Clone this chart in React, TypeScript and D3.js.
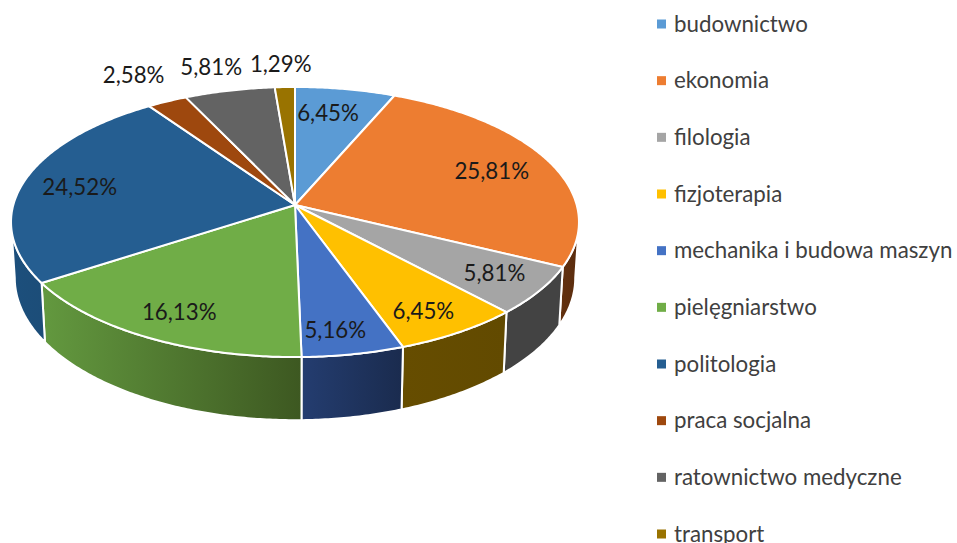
import React from "react";
import * as d3 from "d3";

const categories = ["budownictwo", "ekonomia", "filologia", "fizjoterapia", "mechanika i budowa maszyn", "pielęgniarstwo", "politologia", "praca socjalna", "ratownictwo medyczne", "transport"];
const shares = [6.45, 25.81, 5.81, 6.45, 5.16, 16.13, 24.52, 2.58, 5.81, 1.29];
const labels = ["6,45%", "25,81%", "5,81%", "6,45%", "5,16%", "16,13%", "24,52%", "2,58%", "5,81%", "1,29%"];
const colors = ["#5b9bd5", "#ed7d31", "#a5a5a5", "#ffc000", "#4472c4", "#70ad47", "#255e91", "#9e480e", "#636363", "#997300"];
// side wall shades, left to right
const wallLeft = ["#3f6d96", "#63310f", "#434343", "#664d00", "#243d70", "#63993f", "#1c4f7c", "#63300a", "#444", "#664d00"];
const wallRight = ["#3f6d96", "#5a2c0e", "#434343", "#624a00", "#1a2b4e", "#3d5821", "#1c4d78", "#63300a", "#444", "#664d00"];
// how far out each label sits (1 = rim) and its turn off the slice middle, degrees
const labelRadius = [0.77, 0.77, 0.82, 0.83, 0.85, 0.82, 0.79, 1.3, 1.25, 1.23];
const labelTurn = [-2, 0, -0.8, 1.4, 1.8, -0.8, -0.9, 0, -0.8, -0.4];

const width = 957;
const height = 543;
const cx = 295;
const cy = 205;
const tilt = -0.126; // perspective
const font = "Lato, sans-serif";
const fontSize = 22.3;

// upper rim and lower rim of the tilted disc
const top = { x: 281.7, y0: cy, y: 132.9 };
const bottom = { x: 278, y0: 260, y: 140 };

function project(theta: number, r: number, disc: typeof top): [number, number] {
  const u = Math.sin(theta) * r;
  const v = -Math.cos(theta) * r;
  const w = 1 + tilt * v;
  return [cx + (disc.x * u) / w, disc.y0 + (disc.y * v) / w];
}

const sweep = (a: number, b: number) => d3.range(a, b, 0.01).concat(b);
const line = d3.line();

const arcs = d3.pie<number>().sort(null)(shares);

// rim is visible between the two tangent points of the projected ellipse
const wallFrom = Math.acos(tilt);
const wallTo = 2 * Math.PI - wallFrom;

const legendY = d3.scalePoint<string>().domain(categories).range([23, 533]);

export default function App() {
  return (
    <svg width={width} height={height} style={{ position: "absolute", left: 0, top: 0, background: "#fff" }}>
      <defs>
        {arcs.map((d, i) => (
          <linearGradient key={i} id={`wall${i}`}>
            <stop offset="0" stopColor={wallLeft[i]} />
            <stop offset="1" stopColor={wallRight[i]} />
          </linearGradient>
        ))}
      </defs>
      {arcs.map((d, i) => {
        const a = Math.max(d.startAngle, wallFrom);
        const b = Math.min(d.endAngle, wallTo);
        if (a >= b) return null;
        const angles = sweep(a, b);
        const pts = [
          ...angles.map((t) => project(t, 1, top)),
          ...angles.slice().reverse().map((t) => project(t, 1, bottom)),
        ];
        return <path key={i} d={line(pts) + "Z"} fill={`url(#wall${i})`} stroke="#fff" strokeWidth={2} strokeLinejoin="round" />;
      })}
      {arcs.map((d, i) => {
        const pts: [number, number][] = [[cx, cy], ...sweep(d.startAngle, d.endAngle).map((t) => project(t, 1, top))];
        return <path key={i} d={line(pts) + "Z"} fill={colors[i]} stroke="#fff" strokeWidth={2} strokeLinejoin="round" />;
      })}
      {arcs.map((d, i) => {
        const mid = (d.startAngle + d.endAngle) / 2 + (labelTurn[i] * Math.PI) / 180;
        const [x, y] = project(mid, labelRadius[i], top);
        return (
          <text key={i} x={x} y={y} textAnchor="middle" dominantBaseline="central" fontFamily={font} fontSize={fontSize} fill="#1a1a1a">
            {labels[i]}
          </text>
        );
      })}
      {categories.map((c, i) => (
        <g key={c} transform={`translate(657,${legendY(c)})`}>
          <rect x={0} y={-3.5} width={9} height={9} fill={colors[i]} />
          <text x={17} y={0} dominantBaseline="central" fontFamily={font} fontSize={fontSize} fill="#404040">
            {c}
          </text>
        </g>
      ))}
    </svg>
  );
}
